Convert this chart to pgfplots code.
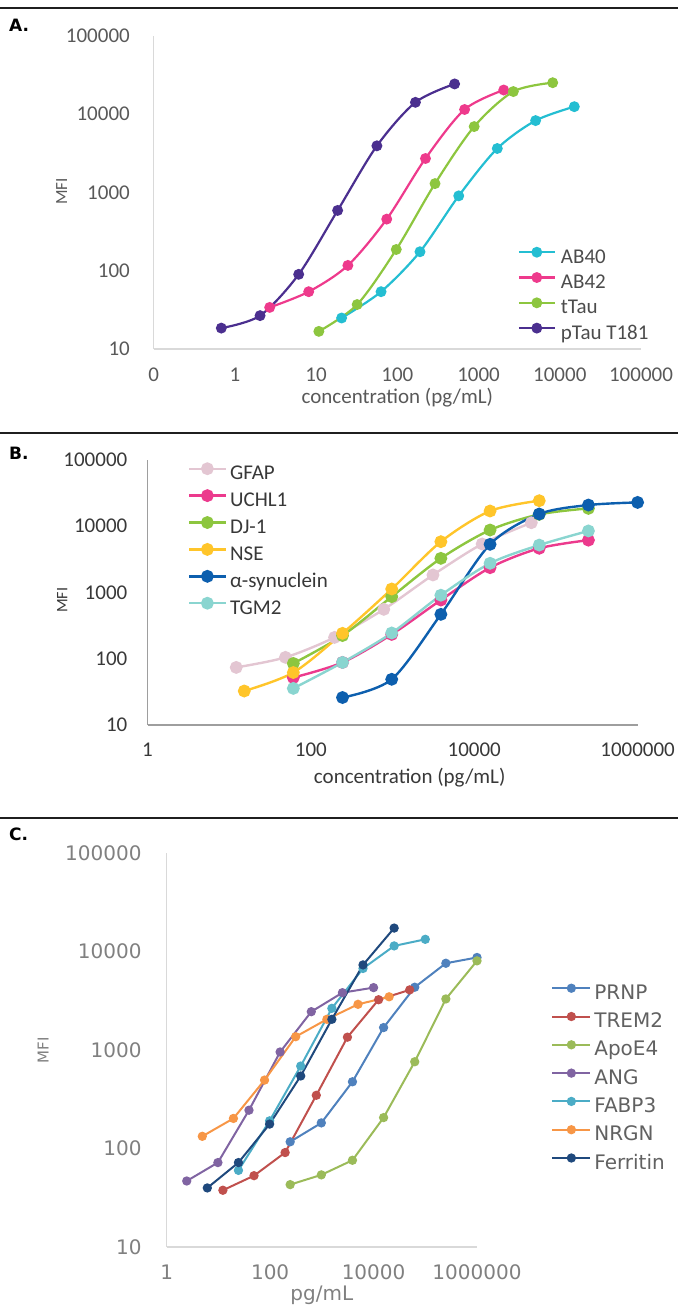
\documentclass[border=0pt]{standalone}
\usepackage{pgfplots}
\pgfplotsset{compat=1.18}
\usepackage{fontspec}
\setmainfont{Carlito}
\newfontfamily\verd{DejaVu Sans}

% panel A
\definecolor{abforty}{HTML}{24BED2}
\definecolor{abfortytwo}{HTML}{EE3A8C}
\definecolor{ttau}{HTML}{8DC63F}
\definecolor{ptau}{HTML}{4B2F8F}
% panel B
\definecolor{gfap}{HTML}{E3C6D2}
\definecolor{uchl}{HTML}{EC3A8D}
\definecolor{djone}{HTML}{8DC63F}
\definecolor{nse}{HTML}{FFC52A}
\definecolor{asyn}{HTML}{0D5FAE}
\definecolor{tgm}{HTML}{8AD5D0}
% panel C
\definecolor{prnp}{HTML}{4F81BD}
\definecolor{trem}{HTML}{C0504D}
\definecolor{apoe}{HTML}{9BBB59}
\definecolor{ang}{HTML}{8064A2}
\definecolor{fabp}{HTML}{4BACC6}
\definecolor{nrgn}{HTML}{F79646}
\definecolor{ferr}{HTML}{1F497D}

\begin{document}
\begin{tikzpicture}

% rules and panel letters
\draw[line width=2bp, black!88] (0bp,-8bp) -- (678bp,-8bp);
\draw[line width=2bp, black!88] (0bp,-433bp) -- (678bp,-433bp);
\draw[line width=2bp, black!88] (0bp,-818bp) -- (678bp,-818bp);
\node[anchor=west, inner sep=0pt, font={\verd\bfseries\fontsize{17bp}{17bp}\selectfont}] at (9bp,-25bp) {A.};
\node[anchor=west, inner sep=0pt, font={\verd\bfseries\fontsize{17bp}{17bp}\selectfont}] at (9bp,-453bp) {B.};
\node[anchor=west, inner sep=0pt, font={\verd\bfseries\fontsize{17bp}{17bp}\selectfont}] at (9bp,-834bp) {C.};

% ---------------- A ----------------
\begin{axis}[
  xmode=log, ymode=log, scale only axis,
  at={(153.7bp,-349bp)}, anchor=south west,
  width=487.3bp, height=313bp,
  xmin=0.1, xmax=100000, ymin=10, ymax=100000,
  axis x line*=bottom, axis y line*=left,
  major tick length=0pt, xminorticks=false, yminorticks=false,
  xtick={0.1,1,10,100,1000,10000,100000},
  xticklabels={0,1,10,100,1000,10000,100000},
  ytick={10,100,1000,10000,100000},
  yticklabels={10,100,1000,10000,100000},
  axis line style={draw=black!15, line width=1.3bp},
  tick label style={font=\fontsize{21bp}{21bp}\selectfont, text=black!65, inner sep=0pt},
  xticklabel style={anchor=center, yshift=-26bp},
  yticklabel style={anchor=east, xshift=-23.7bp},
  xlabel={concentration (pg/mL)},
  xlabel style={font=\fontsize{21bp}{21bp}\selectfont, text=black!65, at={(axis description cs:0.5,0)}, anchor=center, yshift=-49bp},
  ylabel={MFI},
  ylabel style={font=\fontsize{17bp}{17bp}\selectfont, text=black!65, at={(axis description cs:-0.189,0.504)}, anchor=center},
  clip=false, legend cell align=left,
  legend image code/.code={\draw[mark repeat=2,mark phase=2,#1] plot coordinates {(0bp,6bp) (18bp,6bp) (36bp,6bp)};},
  legend style={at={(axis description cs:0.7466,0.3236)}, anchor=north west, draw=none, fill=none,
    inner sep=0pt, row sep=5bp, column sep=5bp,
    font=\fontsize{21bp}{21bp}\selectfont, text=black!70,
    nodes={inner sep=0pt, text height=15bp, text depth=5bp}},
]
\addplot[abforty, line width=2.2bp, smooth, mark=*, mark size=4.3bp] coordinates {(20.6,24.9) (63,54) (190,175) (570,906) (1700,3650) (5040,8300) (15100,12500)};
\addlegendentry{AB40}
\addplot[abfortytwo, line width=2.2bp, smooth, mark=*, mark size=4.3bp] coordinates {(2.68,34) (8.1,54) (24.6,117) (74,457) (222,2720) (673,11500) (2040,20400)};
\addlegendentry{AB42}
\addplot[ttau, line width=2.2bp, smooth, mark=*, mark size=4.3bp] coordinates {(10.8,16.8) (32,37) (97,187) (291,1300) (883,6960) (2680,19500) (8180,25300)};
\addlegendentry{tTau}
\addplot[ptau, line width=2.2bp, smooth, mark=*, mark size=4.3bp] coordinates {(0.68,18.5) (2.04,26.7) (6.1,90) (18.4,590) (56,3950) (167,14200) (507,24400)};
\addlegendentry{pTau T181}
\end{axis}

% ---------------- B ----------------
\begin{axis}[
  xmode=log, ymode=log, scale only axis,
  at={(147.5bp,-725bp)}, anchor=south west,
  width=490.1bp, height=265bp,
  xmin=1, xmax=1000000, ymin=10, ymax=100000,
  axis x line*=bottom, axis y line*=left,
  major tick length=0pt, xminorticks=false, yminorticks=false,
  xtick={1,100,10000,1000000},
  xticklabels={1,100,10000,1000000},
  ytick={10,100,1000,10000,100000},
  yticklabels={10,100,1000,10000,100000},
  axis line style={draw=black!38, line width=1.6bp},
  tick label style={font=\fontsize{21bp}{21bp}\selectfont, text=black!78, inner sep=0pt},
  xticklabel style={anchor=center, yshift=-25bp},
  yticklabel style={anchor=east, xshift=-20bp},
  xlabel={concentration (pg/mL)},
  xlabel style={font=\fontsize{21bp}{21bp}\selectfont, text=black!78, at={(axis description cs:0.535,0)}, anchor=center, yshift=-53bp},
  ylabel={MFI},
  ylabel style={font=\fontsize{16bp}{16bp}\selectfont, text=black!78, at={(axis description cs:-0.174,0.47)}, anchor=center},
  clip=false, legend cell align=left,
  legend image code/.code={\draw[mark repeat=2,mark phase=2,#1] plot coordinates {(0bp,6bp) (18bp,6bp) (36bp,6bp)};},
  legend style={at={(axis description cs:0.0826,0.9875)}, anchor=north west, draw=none, fill=none,
    inner sep=0pt, row sep=5.7bp, column sep=3.5bp,
    font=\fontsize{21bp}{21bp}\selectfont, text=black!78,
    nodes={inner sep=0pt, text height=15bp, text depth=5bp}},
]
\addplot[gfap, line width=2.4bp, smooth, mark=*, mark size=5.2bp] coordinates {(12.2,74) (48.8,105) (195,210) (781,557) (3125,1840) (12500,5400) (50000,11300)};
\addlegendentry{GFAP}
\addplot[uchl, line width=2.4bp, smooth, mark=*, mark size=5.2bp] coordinates {(61,52) (244,88) (977,233) (3906,770) (15625,2370) (62500,4650) (250000,6170)};
\addlegendentry{UCHL1}
\addplot[djone, line width=2.4bp, smooth, mark=*, mark size=5.2bp] coordinates {(61,85) (244,224) (977,866) (3906,3280) (15625,8770) (62500,15100) (250000,18600)};
\addlegendentry{DJ-1}
\addplot[nse, line width=2.4bp, smooth, mark=*, mark size=5.2bp] coordinates {(15.3,32.6) (61,62) (244,242) (977,1130) (3906,5850) (15625,17000) (62500,24300)};
\addlegendentry{NSE}
\addplot[asyn, line width=2.4bp, smooth, mark=*, mark size=5.2bp] coordinates {(244,26) (977,49) (3906,468) (15625,5340) (62500,15300) (250000,20900) (1000000,22900)};
\addlegendentry{α-synuclein}
\addplot[tgm, line width=2.4bp, smooth, mark=*, mark size=5.2bp] coordinates {(61,35.7) (244,88) (977,245) (3906,910) (15625,2760) (62500,5200) (250000,8500)};
\addlegendentry{TGM2}
\end{axis}

% ---------------- C ----------------
\begin{axis}[
  xmode=log, ymode=log, scale only axis,
  at={(166.7bp,-1247bp)}, anchor=south west,
  width=310.3bp, height=394bp,
  xmin=1, xmax=1000000, ymin=10, ymax=100000,
  axis x line*=bottom, axis y line*=left,
  major tick length=0pt, xminorticks=false, yminorticks=false,
  xtick={1,100,10000,1000000},
  xticklabels={1,100,10000,1000000},
  ytick={10,100,1000,10000,100000},
  yticklabels={10,100,1000,10000,100000},
  axis line style={draw=black!15, line width=1.3bp},
  tick label style={font=\verd\fontsize{20bp}{20bp}\selectfont, text=black!50, inner sep=0pt},
  xticklabel style={anchor=center, yshift=-25bp},
  yticklabel style={anchor=east, xshift=-25bp},
  xlabel={pg/mL},
  xlabel style={font=\verd\fontsize{20bp}{20bp}\selectfont, text=black!50, at={(axis description cs:0.5,0)}, anchor=center, yshift=-48bp},
  ylabel={MFI},
  ylabel style={font=\verd\fontsize{15bp}{15bp}\selectfont, text=black!50, at={(axis description cs:-0.398,0.5)}, anchor=center},
  clip=false, legend cell align=left,
  legend image code/.code={\draw[mark repeat=2,mark phase=2,#1] plot coordinates {(0bp,6bp) (19bp,6bp) (38bp,6bp)};},
  legend style={at={(axis description cs:1.239,0.6675)}, anchor=north west, draw=none, fill=none,
    inner sep=0pt, row sep=8.3bp, column sep=3bp,
    font=\verd\fontsize{20bp}{20bp}\selectfont, text=black!62,
    nodes={inner sep=0pt, text height=15bp, text depth=5bp}},
]
\addplot[prnp, line width=2bp, mark=*, mark size=3.6bp] coordinates {(244,117) (977,182) (3906,476) (15625,1690) (62500,4340) (250000,7600) (1000000,8700)};
\addlegendentry{PRNP}
\addplot[trem, line width=2bp, mark=*, mark size=3.6bp] coordinates {(12.2,37.7) (48.8,53) (195,91) (781,347) (3125,1350) (12500,3240) (50000,4080)};
\addlegendentry{TREM2}
\addplot[apoe, line width=2bp, mark=*, mark size=3.6bp] coordinates {(244,43) (977,54) (3906,76) (15625,206) (62500,760) (250000,3300) (1000000,8040)};
\addlegendentry{ApoE4}
\addplot[ang, line width=2bp, mark=*, mark size=3.6bp] coordinates {(2.44,46.8) (9.77,72) (39,245) (156,955) (625,2450) (2500,3820) (10000,4300)};
\addlegendentry{ANG}
\addplot[fabp, line width=2bp, mark=*, mark size=3.6bp] coordinates {(24.4,60) (97.7,191) (390,687) (1562,2650) (6250,6730) (25000,11400) (100000,13300)};
\addlegendentry{FABP3}
\addplot[nrgn, line width=2bp, mark=*, mark size=3.6bp] coordinates {(4.88,133) (19.5,202) (78,495) (312,1365) (1250,2050) (5000,2910) (20000,3470)};
\addlegendentry{NRGN}
\addplot[ferr, line width=2bp, mark=*, mark size=3.6bp] coordinates {(6.1,39.8) (24.4,72) (97.7,177) (390,545) (1562,2050) (6250,7310) (25000,17300)};
\addlegendentry{Ferritin}
\end{axis}

\pgfresetboundingbox
\path (0bp,0bp) rectangle (678bp,-1305bp);
\end{tikzpicture}
\end{document}
